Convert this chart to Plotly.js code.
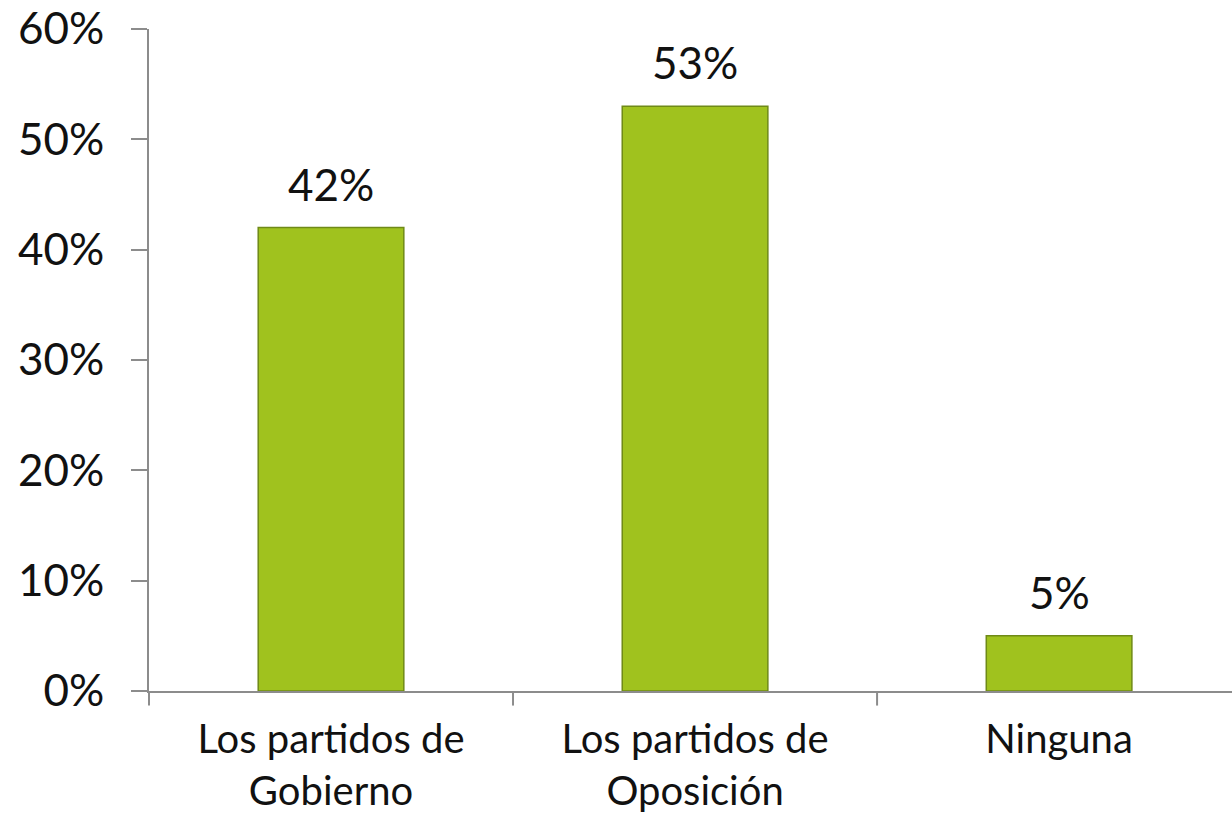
<!DOCTYPE html>
<html>
<head>
<meta charset="utf-8">
<script src="https://cdn.plot.ly/plotly-3.0.1.min.js"></script>
<style>html,body{margin:0;padding:0;background:#fff;}#chart{width:1232px;height:823px;}</style>
</head>
<body>
<div id="chart"></div>
<script>
var categories = ["Los partidos de<br>Gobierno", "Los partidos de<br>Oposición", "Ninguna"];
var values = [0.42, 0.53, 0.05];
var valueLabels = ["42%", "53%", "5%"];
var yTickVals = [0, 0.1, 0.2, 0.3, 0.4, 0.5, 0.6];
var yTickText = ["0%", "10%", "20%", "30%", "40%", "50%", "60%"];

var FONT = "Lato, 'Noto Sans', sans-serif";

var trace = {
  type: "bar",
  x: [0, 1, 2],
  y: values,
  width: 0.4,
  marker: { color: "#a0c21e", line: { color: "#6f8a17", width: 1.5 } },
  hoverinfo: "none"
};

var annotations = values.map(function (v, i) {
  return {
    x: i, y: v, xref: "x", yref: "y",
    text: valueLabels[i], showarrow: false,
    yanchor: "bottom", yshift: 16,
    font: { family: FONT, size: 44, color: "#111" }
  };
});

var layout = {
  width: 1232, height: 823,
  margin: { l: 149, r: 0, t: 29, b: 132 },
  paper_bgcolor: "#fff", plot_bgcolor: "#fff",
  showlegend: false,
  bargap: 0,
  xaxis: {
    range: [-0.5, 2.475],
    tickmode: "array",
    tickvals: [0, 1, 2],
    ticktext: categories,
    ticks: "",
    showline: true, linecolor: "#8c8c8c", linewidth: 2,
    showgrid: false, zeroline: false,
    tickfont: { family: FONT, size: 40, color: "#111" },
    ticklabelstandoff: 12
  },
  yaxis: {
    range: [0, 0.6],
    tickmode: "array",
    tickvals: yTickVals,
    ticktext: yTickText,
    ticks: "outside", ticklen: 16, tickwidth: 2, tickcolor: "#8c8c8c",
    showline: true, linecolor: "#8c8c8c", linewidth: 2,
    showgrid: false, zeroline: false,
    tickfont: { family: FONT, size: 44, color: "#111" },
    ticklabelstandoff: 18
  },
  shapes: [0.5, 1.5].map(function (p) {
    return { type: "line", xref: "x", yref: "paper", x0: p, x1: p, y0: 0, y1: -0.022,
             line: { color: "#8c8c8c", width: 2 } };
  }).concat([{ type: "line", xref: "paper", yref: "paper", x0: -0.015, x1: 0, y0: 0, y1: 0,
               line: { color: "#8c8c8c", width: 2 } },
             { type: "line", xref: "paper", yref: "paper", x0: 0, x1: 0, y0: 0, y1: -0.022,
               line: { color: "#8c8c8c", width: 2 } }]),
  annotations: annotations
};

Plotly.newPlot("chart", [trace], layout, { staticPlot: true, displayModeBar: false });
</script>
</body>
</html>
